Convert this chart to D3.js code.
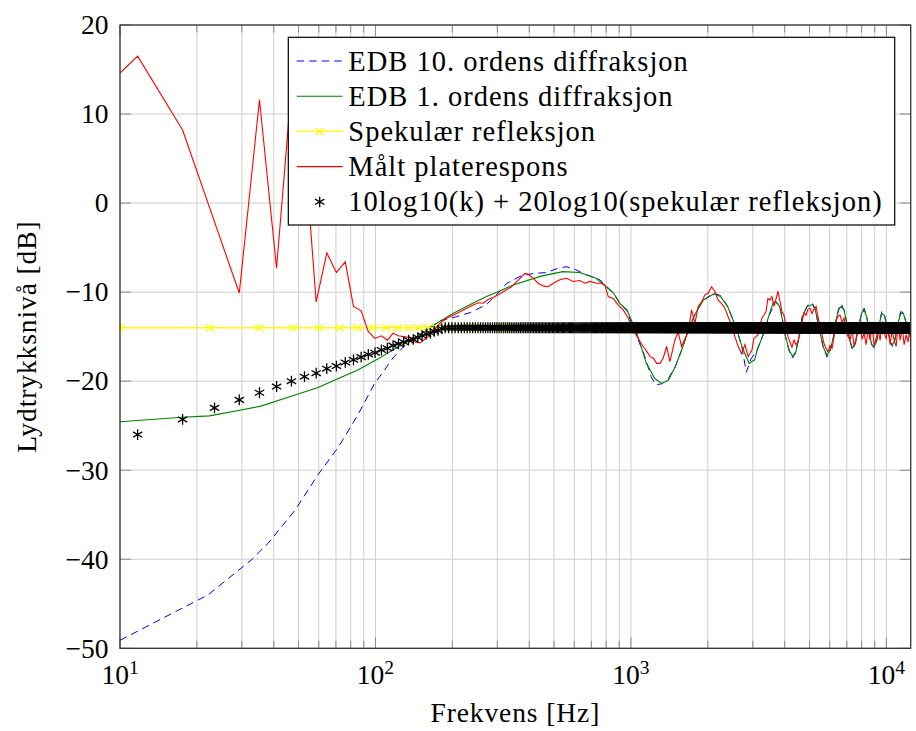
<!DOCTYPE html>
<html><head><meta charset="utf-8">
<script src="https://cdn.jsdelivr.net/npm/d3@7"></script>
<style>
body{margin:0;background:#fff}
svg{display:block}
</style>
</head><body><svg id="c" width="916" height="731" font-family="'Liberation Serif', 'DejaVu Serif', serif"></svg>
<script>
// ---------------- data ----------------
const xTickValues = [10, 100, 1000, 10000];
const xTickExponents = ["1", "2", "3", "4"];
const yTickValues = [-50, -40, -30, -20, -10, 0, 10, 20];
const xLabel = "Frekvens [Hz]";
const yLabel = "Lydtrykksnivå [dB]";
const legendLabels = [
  "EDB 10. ordens diffraksjon",
  "EDB 1. ordens diffraksjon",
  "Spekulær refleksjon",
  "Målt platerespons",
  "10log10(k) + 20log10(spekulær refleksjon)"
];

// EDB 10. ordens diffraksjon (blue dashed)
const edb10Freq = [10,22.1,32.6,38,48.4,59.6,71.6,85.3,99.4,107,117,132,155,180,205,235,272,300,327,376,420,466,520,558,600,650,755,855,903,965,1055,1130,1200,1250,1320,1400,1490,1580,1680,1790,1920,2110,2245,2390,2590,2720,2830,2950,3120,3290,3480,3680,3820,3900,4030,4160,4290,4420,4550,4680,4900,5130,5270,5440,5650,5860,6030,6210,6360,6500,6650,6830,7000,7190,7360,7560,7800,7990,8180,8380,8580,8760,8970,9180,9390,9590,9820,10050,10350,10560,10790,11100,11370,11660,11970,12300,12500];
const edb10Db = [-49.1,-44.0,-40.1,-38.2,-34.5,-30.5,-27.4,-23.8,-20.2,-19.0,-17.4,-15.8,-14.4,-13.2,-12.8,-12.3,-11.4,-10.2,-9.0,-8.1,-7.9,-7.8,-7.3,-7.15,-7.4,-7.9,-8.6,-10.1,-11.2,-12.1,-15.0,-17.1,-19.5,-20.4,-20.3,-19.7,-18.4,-16.5,-14.2,-12.3,-10.9,-10.1,-10.4,-11.6,-14.1,-16.2,-19.0,-17.5,-16.5,-14.8,-12.6,-11.0,-11.5,-12.8,-15.0,-16.6,-17.4,-16.8,-15.0,-12.8,-11.5,-11.2,-12.0,-13.9,-16.1,-17.3,-16.5,-15.0,-13.1,-11.9,-11.3,-12.0,-13.5,-15.4,-16.5,-15.75,-13.9,-12.3,-11.8,-12.8,-14.6,-15.9,-16.3,-15.4,-13.5,-12.2,-12.5,-13.9,-15.6,-16.1,-15.4,-13.5,-12.2,-12.3,-13.5,-14.8,-15.3];

// EDB 1. ordens diffraksjon (green)
const edb1Freq = [10,17.5,22.4,29.8,35.6,46.8,59.6,71.6,85.3,101.7,120,146,174,201,233,272,302,346,445,541,630,730,855,903,965,1055,1149,1240,1320,1400,1490,1580,1680,1790,1920,2110,2245,2390,2590,2720,2900,3050,3120,3290,3480,3600,3680,3820,3900,4030,4160,4290,4420,4550,4680,4900,5130,5270,5440,5650,5860,6030,6210,6360,6500,6650,6830,7000,7190,7360,7560,7800,7990,8180,8380,8580,8760,8970,9180,9390,9590,9820,10050,10350,10560,10790,11100,11370,11660,11970,12300,12500];
const edb1Db = [-24.55,-24.06,-23.9,-23.24,-22.8,-21.7,-20.7,-19.7,-18.75,-17.55,-16.3,-15.0,-13.5,-12.4,-11.45,-10.5,-9.95,-9.2,-8.2,-7.7,-7.8,-8.45,-10.1,-11.26,-12.0,-14.6,-18.0,-19.7,-20.25,-19.9,-18.4,-16.5,-14.25,-12.4,-10.9,-10.2,-10.5,-11.6,-14.1,-16.1,-18.0,-17.6,-16.5,-14.8,-12.5,-11.2,-11.1,-11.6,-12.8,-15.0,-16.5,-17.2,-16.7,-15.0,-12.8,-11.6,-11.4,-12.0,-13.9,-16.1,-17.1,-16.5,-15.0,-13.1,-12.0,-11.6,-12.0,-13.5,-15.4,-16.3,-15.75,-13.9,-12.4,-12.0,-12.8,-14.6,-15.9,-16.1,-15.4,-13.5,-12.4,-12.6,-13.9,-15.6,-15.9,-15.4,-13.5,-12.4,-12.4,-13.5,-14.8,-15.3];

// Spekulær refleksjon (yellow, constant level, marks every 12.5 Hz)
const specLevel = -14.0;
const specFreqStart = 10;
const specFreqStep = 12.5;

// Målt platerespons (red)
const measFreq = [10,11.72,17.58,29.3,35.16,41.0,46.9,52.7,58.6,64.5,70.3,76.2,82.0,87.9,93.75,99.6,105.5,111.4,117.2,122.8,128.5,136.5,142.8,149.3,156.2,160.9,166,178.8,190,201.6,214.2,227.5,241.4,252.6,264.2,276.4,289,302.5,341,367.8,384.6,396,414.6,433.5,453.6,474.6,496.5,527,560,594,631,661,691,734,768,791,815,853,892,933,976,1021,1068,1117,1169,1187,1223,1261,1299,1338,1380,1421,1486,1531,1578,1675,1728,1780,1834,1891,1948,2007,2069,2132,2197,2265,2333,2404,2478,2553,2630,2711,2793,2877,
2976,3030,3085,3141,3199,3257,3316,3377,3438,3501,3565,3630,3696,3763,3832,3902,3973,4045,4119,4194,4270,4348,4427,4508,4590,4674,4759,4846,4934,5024,5116,5209,5304,5400,5499,5599,5701,5805,5911,6019,6128,6240,6354,6469,6587,6707,6829,6954,7080,7209,7340,7474,7610,7749,7890,8034,8180,8329,8481,8635,8793,8953,9116,9282,9451,9623,9798,9977,10159,10344,10532,10724,10919,11118,11321,11527,11737,11951,12169,12390,12616];
const measDb = [14.6,16.5,8.2,-10.1,11.6,-7.3,13.0,6.5,-11.1,-5.6,-7.8,-6.6,-11.6,-12.1,-14.45,-15.2,-14.9,-15.4,-14.6,-14.9,-15.0,-15.1,-15.6,-15.7,-15.3,-15.0,-14.45,-13.5,-12.9,-12.6,-12.2,-11.8,-11.45,-11.2,-11.25,-10.8,-10.6,-10.3,-9.4,-8.45,-7.9,-8.0,-8.45,-9.0,-9.3,-9.4,-9.0,-8.6,-8.45,-8.8,-8.7,-9.0,-8.8,-9.0,-9.0,-9.2,-10.5,-10.7,-11.45,-12.0,-12.9,-14.25,-15.2,-16.1,-16.9,-17.25,-17.4,-18.0,-18.0,-17.4,-16.1,-17.8,-15.4,-14.45,-16.1,-14.45,-12.0,-13.5,-11.6,-11.1,-10.3,-10.1,-9.4,-9.95,-10.9,-11.3,-11.8,-12.8,-13.7,-15.0,-16.1,-16.9,-15.9,-17.25,
-16.5,-15.2,-15.0,-14.8,-13.8,-12.9,-12.6,-12.2,-10.7,-10.9,-10.5,-11.6,-10.8,-9.9,-11.0,-12.2,-12.6,-13.8,-15.0,-15.6,-16.2,-15.4,-15.9,-15.6,-14.6,-13.4,-12.3,-12.6,-11.9,-11.8,-12.4,-11.9,-11.6,-12.8,-13.8,-14.8,-15.8,-16.3,-16.7,-16.0,-16.3,-15.0,-13.2,-12.7,-12.6,-13.4,-12.9,-14.4,-15.0,-15.4,-14.2,-16.1,-15.2,-14.0,-13.7,-15.3,-14.6,-15.9,-14.2,-15.4,-13.5,-16.1,-15.2,-14.3,-15.4,-13.3,-14.6,-15.2,-13.8,-15.9,-14.3,-15.4,-16.1,-13.6,-15.4,-14.0,-15.9,-14.8,-15.6,-13.7,-15.5];

// 10log10(k) + 20log10(spekulær refleksjon) (black asterisks, every 5.86 Hz from k = 2)
const starFreqStep = 5.86;
const starFirstK = 2;
const starRise = [-26.0,-24.3,-23.0,-22.1,-21.3,-20.6,-20.0,-19.5,-19.1,-18.6,-18.3,-17.9,-17.6,-17.3,-17.0,-16.8,-16.5,-16.3,-16.0,-15.8,-15.6,-15.4,-15.3,-15.1,-14.9,-14.7,-14.6,-14.4,-14.3,-14.1];
const starFlat = -14.0;

// ---------------- chart ----------------
const L = 120, R = 910.7, T = 25, B = 648.3;
const fMax = 12450;
const svg = d3.select("#c");
const x = d3.scaleLog().domain([10, fMax]).range([L, R]);
const y = d3.scaleLinear().domain([-50, 20]).range([B, T]);

svg.append("defs").append("clipPath").attr("id", "clip")
  .append("rect").attr("x", L).attr("y", T).attr("width", R - L).attr("height", B - T);

const gridX = [];
xTickValues.forEach((d, i) => {
  if (i < xTickValues.length - 1) { for (let m = 1; m <= 9; m++) gridX.push(m * d); }
  else gridX.push(d);
});
const gGrid = svg.append("g");
gGrid.selectAll("line.gx").data(gridX).join("line")
  .attr("x1", d => x(d)).attr("x2", d => x(d)).attr("y1", T).attr("y2", B)
  .attr("stroke", "#cfcfcf").attr("stroke-width", 1);
gGrid.selectAll("line.gy").data(yTickValues).join("line")
  .attr("x1", L).attr("x2", R).attr("y1", d => y(d)).attr("y2", d => y(d))
  .attr("stroke", "#cfcfcf").attr("stroke-width", 1);

const gT = svg.append("g").attr("stroke", "#8a8a8a").attr("stroke-width", 1);
gridX.forEach(d => {
  const len = xTickValues.includes(d) ? 11 : 7.5;
  gT.append("line").attr("x1", x(d)).attr("x2", x(d)).attr("y1", B).attr("y2", B - len);
  gT.append("line").attr("x1", x(d)).attr("x2", x(d)).attr("y1", T).attr("y2", T + len);
});
yTickValues.forEach(d => {
  gT.append("line").attr("x1", L).attr("x2", L + 11).attr("y1", y(d)).attr("y2", y(d));
  gT.append("line").attr("x1", R).attr("x2", R - 11).attr("y1", y(d)).attr("y2", y(d));
});

const plot = svg.append("g").attr("clip-path", "url(#clip)");
const line = d3.line().x(d => x(d[0])).y(d => y(d[1]));

plot.append("path").datum(edb10Freq.map((f, i) => [f, edb10Db[i]]))
  .attr("d", line).attr("fill", "none").attr("stroke", "#0000ff")
  .attr("stroke-width", 1).attr("stroke-dasharray", "7.5,5");
plot.append("path").datum(edb1Freq.map((f, i) => [f, edb1Db[i]]))
  .attr("d", line).attr("fill", "none").attr("stroke", "#008000").attr("stroke-width", 1.1);
const specPts = [];
for (let f = specFreqStart; f <= fMax + specFreqStep; f += specFreqStep) specPts.push([f, specLevel]);
plot.append("path").datum(specPts).attr("d", line).attr("fill", "none")
  .attr("stroke", "#ffff00").attr("stroke-width", 1.3);
const xMark = "M-4,-3.4L4,3.4M-4,3.4L4,-3.4";
plot.append("g").selectAll("path").data(specPts).join("path")
  .attr("transform", d => `translate(${x(d[0])},${y(d[1])})`)
  .attr("d", xMark).attr("stroke", "#ffff00").attr("stroke-width", 1.3).attr("fill", "none");
plot.append("path").datum(measFreq.map((f, i) => [f, measDb[i]]))
  .attr("d", line).attr("fill", "none").attr("stroke", "#ff0000").attr("stroke-width", 1.1);
const starPts = [];
for (let k = starFirstK; k * starFreqStep <= fMax + starFreqStep; k++) {
  const idx = k - starFirstK;
  starPts.push([k * starFreqStep, idx < starRise.length ? starRise[idx] : starFlat]);
}
const r = 5.4, rc = (r * Math.cos(Math.PI / 6)).toFixed(2), rs = (r * Math.sin(Math.PI / 6)).toFixed(2);
const starMark = `M0,${-r}L0,${r}M${-rc},${-rs}L${rc},${rs}M${-rc},${rs}L${rc},${-rs}`;
plot.append("g").selectAll("path").data(starPts).join("path")
  .attr("transform", d => `translate(${x(d[0])},${y(d[1])})`)
  .attr("d", starMark).attr("stroke", "#000").attr("stroke-width", 1.3).attr("fill", "none");

svg.append("rect").attr("x", L).attr("y", T).attr("width", R - L).attr("height", B - T)
  .attr("fill", "none").attr("stroke", "#333").attr("stroke-width", 1.3);

const fs = 27.5;
svg.append("g").selectAll("text").data(yTickValues).join("text")
  .attr("x", 108.5).attr("y", d => y(d) + 9.3).attr("text-anchor", "end")
  .attr("font-size", fs).text(d => d < 0 ? "\u2212" + Math.abs(d) : String(d));
const xl = svg.append("g").selectAll("text").data(xTickValues).join("text")
  .attr("x", d => x(d)).attr("y", 683.5).attr("text-anchor", "middle").attr("font-size", fs);
xl.append("tspan").text("10");
xl.append("tspan").attr("dy", -9.5).attr("font-size", 19.5).text((d, i) => xTickExponents[i]);

svg.append("text").attr("x", (L + R) / 2).attr("y", 721.5).attr("text-anchor", "middle")
  .attr("font-size", fs).attr("letter-spacing", 0.9).text(xLabel);
svg.append("text").attr("transform", `translate(35.5,${(T + B) / 2}) rotate(-90)`)
  .attr("text-anchor", "middle").attr("font-size", fs).attr("letter-spacing", 0.9).text(yLabel);

const lg = svg.append("g");
lg.append("rect").attr("x", 288.3).attr("y", 37.3).attr("width", 894.7 - 288.3).attr("height", 225 - 37.3)
  .attr("fill", "#fff").attr("stroke", "#000").attr("stroke-width", 1.2);
const rowY = i => 61 + i * 35.2;
const lx1 = 296.7, lx2 = 342.7, lxm = (lx1 + lx2) / 2;
lg.append("line").attr("x1", lx1).attr("x2", lx2).attr("y1", rowY(0)).attr("y2", rowY(0))
  .attr("stroke", "#0000ff").attr("stroke-dasharray", "7.5,5").attr("stroke-width", 1);
lg.append("line").attr("x1", lx1).attr("x2", lx2).attr("y1", rowY(1)).attr("y2", rowY(1))
  .attr("stroke", "#008000").attr("stroke-width", 1.1);
lg.append("line").attr("x1", lx1).attr("x2", lx2).attr("y1", rowY(2)).attr("y2", rowY(2))
  .attr("stroke", "#ffff00").attr("stroke-width", 1.3);
lg.append("path").attr("transform", `translate(${lxm},${rowY(2)})`).attr("d", xMark)
  .attr("stroke", "#ffff00").attr("stroke-width", 1.3).attr("fill", "none");
lg.append("line").attr("x1", lx1).attr("x2", lx2).attr("y1", rowY(3)).attr("y2", rowY(3))
  .attr("stroke", "#ff0000").attr("stroke-width", 1.1);
lg.append("path").attr("transform", `translate(${lxm},${rowY(4)})`).attr("d", starMark)
  .attr("stroke", "#000").attr("stroke-width", 1.3).attr("fill", "none");
lg.selectAll("text").data(legendLabels).join("text")
  .attr("x", 348.3).attr("y", (d, i) => rowY(i) + 9.6).attr("font-size", 28.5)
  .attr("letter-spacing", 1.0).text(d => d);
</script></body></html>
